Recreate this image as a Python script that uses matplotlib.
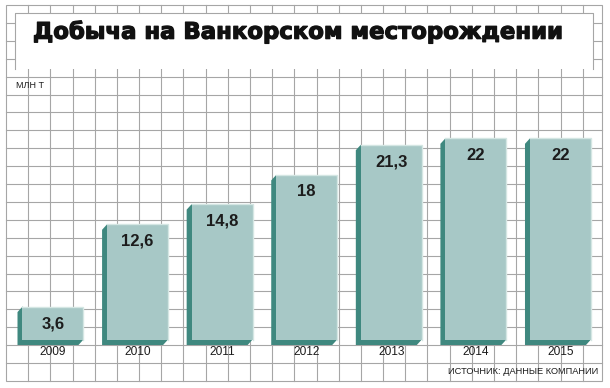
import matplotlib
matplotlib.use("Agg")
import matplotlib.pyplot as plt
import matplotlib.patheffects as pe
from matplotlib.patches import Polygon, Rectangle

# =========================
# Data
# =========================

YEARS = ["2009", "2010", "2011", "2012", "2013", "2014", "2015"]
VALUES = [3.6, 12.6, 14.8, 18, 21.3, 22, 22]
VALUE_LABELS = ["3,6", "12,6", "14,8", "18", "21,3", "22", "22"]

TITLE = "Добыча на Ванкорском месторождении"
UNIT = "МЛН Т"
SOURCE = "ИСТОЧНИК: ДАННЫЕ КОМПАНИИ"

# =========================
# Style
# =========================

W, H = 610, 388
FRONT = "#a7c8c6"
SIDE = "#3f887f"
EDGE_LIGHT = "#d4e6e3"
GRID = "#a6a6a6"
TEXT = "#1c1c1c"
NARROW = ["Liberation Sans Narrow", "Liberation Sans", "DejaVu Sans"]

fig = plt.figure(figsize=(W / 100, H / 100), dpi=100)

# background axes in pixel units (y down) for the paper grid
bg = fig.add_axes([0, 0, 1, 1])
bg.set_xlim(0, W)
bg.set_ylim(H, 0)
bg.axis("off")

left, right, top, bottom = 6, 602, 5, 381
gx, gy = 22.18, 17.9

x = left + gx
while x < right - 5:
    bg.plot([x, x], [top, bottom], color=GRID, lw=0.8, zorder=1)
    x += gx
y = top + gy
while y < bottom - 5:
    bg.plot([left, right], [y, y], color=GRID, lw=0.8, zorder=1)
    y += gy
bg.add_patch(Rectangle((left, top), right - left, bottom - top,
                       fill=False, edgecolor=GRID, lw=0.8, zorder=1))

# title box (no bottom edge)
bx0, bx1, by0, by1 = 15, 593, 13, 69
bg.add_patch(Rectangle((bx0, by0), bx1 - bx0, by1 - by0,
                       facecolor="white", edgecolor="none", zorder=2))
bg.plot([bx0, bx0, bx1, bx1], [by1, by0, by0, by1], color=GRID, lw=0.8, zorder=3)

bg.text(33, 32, TITLE, fontsize=16.4, fontweight="bold", family="DejaVu Sans",
        color="#111111", ha="left", va="center", zorder=4,
        path_effects=[pe.withStroke(linewidth=0.9, foreground="#111111")])
bg.text(16, 85, UNIT, fontsize=6.5, family=NARROW, color=TEXT,
        ha="left", va="center", zorder=4)
bg.text(598, 372, SOURCE, fontsize=6.7, family=NARROW, color=TEXT,
        ha="right", va="center", zorder=4)

# =========================
# Bars
# =========================

n = len(YEARS)
step = 84.58
x_left_px = 53 - 0.5 * step
base_px = 339.5
px_per_unit = 9.145
ymax = 25

ax = fig.add_axes([x_left_px / W, (H - base_px) / H,
                   n * step / W, ymax * px_per_unit / H])
ax.set_xlim(-0.5, n - 0.5)
ax.set_ylim(0, ymax)
ax.axis("off")
ax.patch.set_alpha(0)

bar_w = 61 / step
# 3D extrusion offset, pixels converted to data units
dx = 5.0 / step
dy = 5.5 / px_per_unit

for i, v in enumerate(VALUES):
    L = i - bar_w / 2
    R = i + bar_w / 2
    side = Polygon([(L, v), (L - dx, v - dy), (L - dx, -dy), (R - dx, -dy), (R, 0)],
                   closed=True, facecolor=SIDE, edgecolor="none", clip_on=False, zorder=2)
    ax.add_patch(side)

ax.bar(range(n), VALUES, width=bar_w, color=FRONT, edgecolor="none", zorder=3)

for i, v in enumerate(VALUES):
    R = i + bar_w / 2
    L = i - bar_w / 2
    ax.plot([L, R, R], [v, v, 0], color=EDGE_LIGHT, lw=1.0, zorder=4,
            clip_on=False, solid_joinstyle="miter")
    ax.annotate(VALUE_LABELS[i], (i, v), xytext=(0, -17), textcoords="offset pixels",
                ha="center", va="center", fontsize=12, fontweight="bold",
                family="Liberation Sans", color=TEXT, zorder=5)
    ax.annotate(YEARS[i], (i, 0), xytext=(0, -12.5), textcoords="offset pixels",
                ha="center", va="center", fontsize=8.6, family=NARROW,
                color=TEXT, zorder=5, annotation_clip=False)

fig.savefig("out.png", dpi=100)
